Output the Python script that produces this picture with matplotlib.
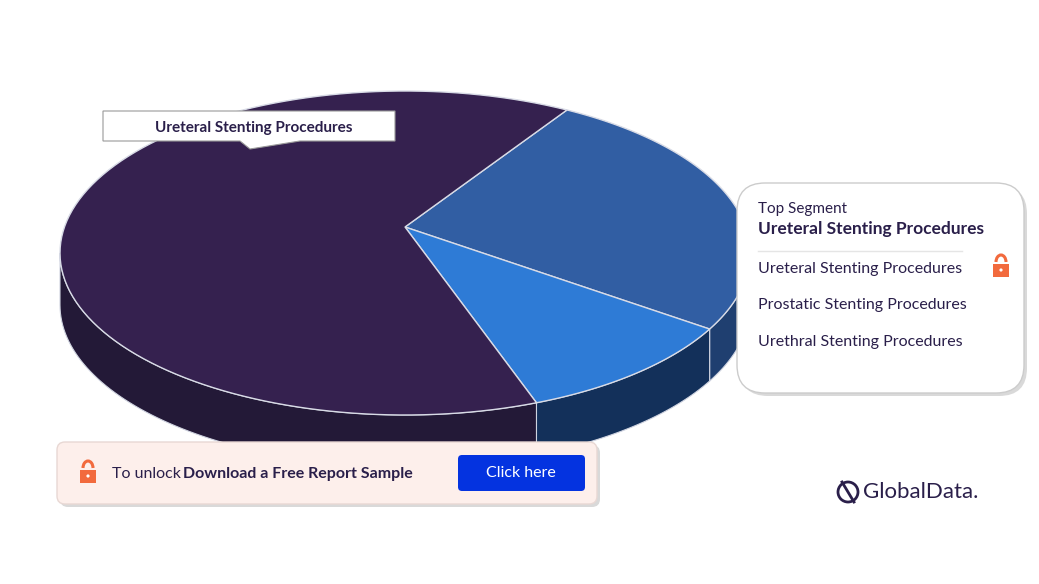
import numpy as np
import matplotlib.pyplot as plt
from matplotlib.patches import Polygon, FancyBboxPatch, Rectangle, Arc, Circle

segments = ["Prostatic Stenting Procedures", "Urethral Stenting Procedures", "Ureteral Stenting Procedures"]
shares = [25, 11, 64]
top_colors = ["#315ea3", "#2e7bd6", "#35214f"]
side_colors = ["#1f3f70", "#13305a", "#231937"]
legend_items = ["Ureteral Stenting Procedures", "Prostatic Stenting Procedures", "Urethral Stenting Procedures"]

W, H = 1039, 584
fig = plt.figure(figsize=(W / 100, H / 100), dpi=100)
ax = fig.add_axes([0, 0, 1, 1])
ax.set_xlim(0, W)
ax.set_ylim(H, 0)
ax.axis("off")

cx, cy, rx, ry, depth = 405, 253, 345, 162, 52
start = 62.0


def pt(a, dz=0):
    r = np.radians(a)
    return cx + rx * np.cos(r), cy - ry * np.sin(r) + dz


# side walls (front half only)
a0 = start
ranges = []
for s in shares:
    a1 = a0 - s * 3.6
    ranges.append((a1, a0))
    a0 = a1
for (lo, hi), col in zip(ranges, side_colors):
    for k in range(-1, 2):
        l, h = max(lo, 180 + 360 * k), min(hi, 360 + 360 * k)
        if l < h:
            angs = np.linspace(l, h, 80)
            top = [pt(a) for a in angs]
            bot = [pt(a, depth) for a in angs[::-1]]
            ax.add_patch(Polygon(top + bot, closed=True, fc=col, ec="#cfd3e0", lw=0.8))

# top faces
for (lo, hi), col in zip(ranges, top_colors):
    angs = np.linspace(lo, hi, 120)
    pts = [(cx, cy - 26)] + [pt(a) for a in angs]
    ax.add_patch(Polygon(pts, closed=True, fc=col, ec="#d8dbe6", lw=1))

# label on pie
ax.add_patch(Polygon([(103, 111), (395, 111), (395, 141), (300, 141), (250, 149), (240, 141), (103, 141)],
                     closed=True, fc="white", ec="#999999", lw=0.8))
ax.text(254, 128, "Ureteral Stenting Procedures", ha="center", va="center",
        fontsize=11, fontweight="bold", color="#2a1f4a", family="Lato")

# legend box
ax.add_patch(FancyBboxPatch((740, 186), 287, 210, boxstyle="round,pad=0,rounding_size=28",
                            fc="#d9d9d9", ec="none"))
ax.add_patch(FancyBboxPatch((737, 183), 287, 210, boxstyle="round,pad=0,rounding_size=28",
                            fc="white", ec="#cccccc", lw=1))
ax.text(758, 209, "Top Segment", fontsize=11, color="#2a1f4a", va="center", family="Lato")
ax.text(758, 229, "Ureteral Stenting Procedures", fontsize=12.5, fontweight="bold",
        color="#2a1f4a", va="center", family="Lato")
ax.plot([758, 962], [251, 251], color="#e5e5e5", lw=1)
for i, t in enumerate(legend_items):
    ax.text(758, 269 + i * 36.5, t, fontsize=11.5, color="#2a1f4a", va="center", family="Lato")


def lock(x, y, s=1.0):
    ax.add_patch(Arc((x, y - 5 * s), 10 * s, 14 * s, theta1=180, theta2=360, color="#f26a3d", lw=2.2))
    ax.add_patch(Rectangle((x - 8 * s, y - 3 * s), 16 * s, 13 * s, fc="#f26a3d", ec="none"))
    ax.add_patch(Circle((x, y + 3 * s), 1.6 * s, fc="white", ec="none"))


lock(1001, 267)

# bottom banner
ax.add_patch(FancyBboxPatch((60, 445), 540, 62, boxstyle="round,pad=0,rounding_size=8",
                            fc="#d9d9d9", ec="none"))
ax.add_patch(FancyBboxPatch((57, 442), 540, 62, boxstyle="round,pad=0,rounding_size=8",
                            fc="#fdefeb", ec="#e8d8d4", lw=1))
lock(88, 473)
ax.text(112, 474, "To unlock", fontsize=11.5, color="#2a1f4a", va="center", family="Lato")
ax.text(183, 474, "Download a Free Report Sample", fontsize=11.5, fontweight="bold",
        color="#2a1f4a", va="center", family="Lato")
ax.add_patch(FancyBboxPatch((458, 455), 127, 36, boxstyle="round,pad=0,rounding_size=4",
                            fc="#0433e0", ec="none"))
ax.text(521, 473, "Click here", fontsize=11.5, color="white", ha="center", va="center", family="Lato")

# logo
ax.add_patch(Circle((848, 492), 10, fc="none", ec="#2a1f4a", lw=2))
ax.plot([842, 854], [482, 502], color="#2a1f4a", lw=2)
ax.text(863, 492, "GlobalData.", fontsize=16, color="#2a1f4a", va="center", family="Lato")

fig.savefig("out.png", dpi=100)
